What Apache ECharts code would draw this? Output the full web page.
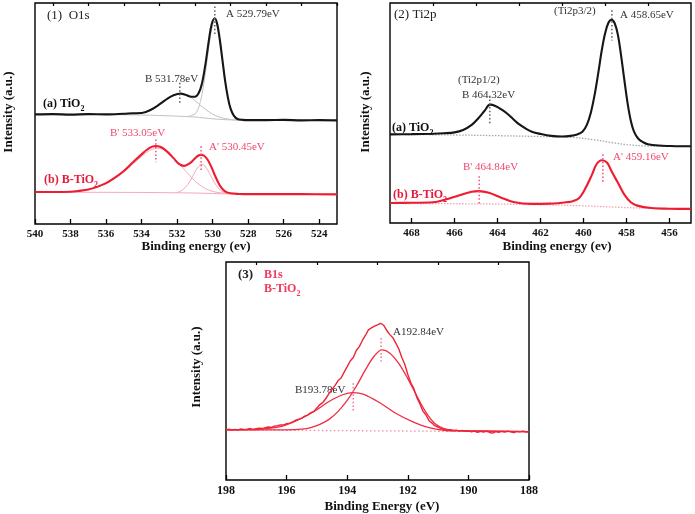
<!DOCTYPE html>
<html><head><meta charset="utf-8">
<script src="https://cdn.jsdelivr.net/npm/echarts@6/dist/echarts.min.js"></script>
<style>html,body{margin:0;padding:0;background:#fff}#c{width:695px;height:514px}</style>
</head><body><div id="c"></div>
<script>
// ---------- Panel 1 : O1s ----------
const o1sTicks = [540, 538, 536, 534, 532, 530, 528, 526, 524];
const o1sMinor = [539, 537, 535, 533, 531, 529, 527, 525, 523];
const o1sTiO2 = [[540,49.6],[539,49.7],[538,49.5],[537,49.7],[536,49.6],[535,49.9],[534.5,50.1],[534,50.2],[533.5,51.6],[533,54.1],[532.5,57.0],[532.2,58.3],[531.8,59.0],[531.5,58.4],[531.2,57.6],[531,57.6],[530.8,59.0],[530.6,63.6],[530.4,72.6],[530.2,83.8],[530.05,90.5],[529.88,93.1],[529.75,90.7],[529.6,83.6],[529.45,74.3],[529.3,64.9],[529.15,57.6],[529,52.4],[528.8,48.9],[528.6,47.5],[528.3,47.1],[528,47.0],[527,47.0],[526,47.1],[525,46.9],[524,47.0],[523,46.9]];
const o1sTiO2Base = [[540,49.6],[536,49.5],[534,49.3],[533,49.1],[532,48.8],[531.5,48.6],[531,48.4],[530.5,48.0],[530,47.6],[529.5,47.3],[529,47.1],[528,47.0],[523,46.9]];
const o1sTiO2PeakA = [[531.4,48.7],[531,49.8],[530.8,52.4],[530.6,58.6],[530.4,68.7],[530.2,80.9],[530.05,88.3],[529.88,91.5],[529.75,89.4],[529.6,82.7],[529.45,73.7],[529.3,64.5],[529.15,57.3],[529,52.2],[528.8,48.8],[528.6,47.5],[528.3,47.0]];
const o1sTiO2PeakB = [[535,49.5],[534.5,49.7],[534,50.2],[533.5,51.6],[533,54.1],[532.5,57.0],[532.2,58.3],[531.8,59.0],[531.4,58.1],[531,55.9],[530.6,53.1],[530.2,50.7],[529.8,48.9],[529.4,47.9],[529,47.3],[528.5,47.0]];
const o1sBTiO2 = [[540,14.5],[539,14.5],[538,14.6],[537.5,15.0],[537,15.6],[536.5,16.8],[536,18.5],[535.5,21.0],[535,24.0],[534.5,27.8],[534,31.5],[533.7,33.6],[533.4,35.0],[533.2,35.3],[533,35.1],[532.8,34.3],[532.5,32.3],[532.2,29.8],[531.9,27.2],[531.6,26.3],[531.3,27.4],[531,29.6],[530.8,31.0],[530.65,31.3],[530.5,31.0],[530.3,29.3],[530.1,26.3],[529.9,22.5],[529.7,19.0],[529.5,16.3],[529.3,14.8],[529,13.9],[528.5,13.6],[528,13.5],[525,13.5],[523,13.4]];
const o1sBTiO2Base = [[540,14.4],[535,14.3],[533,14.2],[531,14.0],[530,13.8],[529,13.6],[523,13.5]];
const o1sBTiO2PeakB = [[538,14.6],[537.5,15.0],[537,15.6],[536.5,16.7],[536,18.3],[535.5,20.6],[535,23.5],[534.5,27.0],[534,30.5],[533.7,32.5],[533.4,33.8],[533.15,34.3],[532.8,33.8],[532.5,32.2],[532.2,30.0],[531.9,27.5],[531.6,24.8],[531.3,22.0],[531,19.5],[530.7,17.5],[530.4,16.0],[530.1,15.0],[529.8,14.4],[529.4,14.0],[529,13.8],[528,13.6]];
const o1sBTiO2PeakA = [[532,14.2],[531.7,15.4],[531.4,17.8],[531.1,22.0],[530.9,24.9],[530.7,26.8],[530.6,27.0],[530.4,25.9],[530.2,23.3],[530,20.2],[529.8,17.5],[529.6,15.6],[529.4,14.5],[529.1,13.9],[528.7,13.7],[528,13.6]];
const o1sMarkA = [[529.88,98.4],[529.88,85.9]];
const o1sMarkB = [[531.85,63.9],[531.85,54.3]];
const o1sMarkB2 = [[533.2,38.2],[533.2,27.9]];
const o1sMarkA2 = [[530.65,35.2],[530.65,24.2]];

// ---------- Panel 2 : Ti2p ----------
const ti2pTicks = [468, 466, 464, 462, 460, 458, 456];
const ti2pMinor = [467, 465, 463, 461, 459, 457];
const ti2pTiO2 = [[469,40.3],[468,40.4],[467,40.6],[466.5,40.8],[466,41.2],[465.6,42.3],[465.2,44.6],[464.9,47.5],[464.6,51.0],[464.35,53.8],[464.1,53.2],[463.8,51.5],[463.5,49.3],[463.2,46.6],[463,44.9],[462.7,43.0],[462.4,41.5],[462,40.5],[461.5,39.6],[461,39.3],[460.6,39.6],[460.3,40.2],[460.05,41.5],[459.85,44.5],[459.65,50.5],[459.45,60.0],[459.3,69.0],[459.15,78.5],[459,86.0],[458.85,90.8],[458.7,92.4],[458.55,90.8],[458.4,85.5],[458.25,76.0],[458.1,65.0],[457.95,54.5],[457.8,46.5],[457.65,41.5],[457.45,38.3],[457.2,36.6],[457,35.8],[456.5,35.2],[456,35.0],[455.5,34.9],[455,34.9]];
const ti2pTiO2Base = [[469,40.3],[466,40.0],[464,39.7],[462,39.3],[460.5,38.9],[459.5,37.8],[458.7,36.6],[458,35.6],[457,35.0],[455,34.9]];
const ti2pBTiO2 = [[469,9.1],[468,9.2],[467,9.4],[466.4,10.7],[465.8,12.5],[465.2,14.2],[464.85,14.5],[464.4,13.7],[463.8,11.4],[463.2,9.4],[462.4,8.7],[461.6,8.8],[461.2,9.0],[460.8,9.4],[460.5,9.9],[460.2,11.4],[459.9,16.0],[459.6,22.1],[459.4,26.6],[459.15,28.5],[458.9,27.4],[458.7,23.6],[458.4,18.3],[458.1,12.9],[457.8,9.4],[457.5,7.9],[456.85,6.8],[456,6.5],[455,6.4]];
const ti2pBTiO2Base = [[469,8.9],[465,8.7],[462,8.3],[460,7.8],[458.5,7.2],[457,6.7],[455,6.4]];
const ti2pMarkB = [[464.36,57.8],[464.36,44.9]];
const ti2pMarkA = [[458.68,96.7],[458.68,83.0]];
const ti2pMarkB2 = [[464.85,21.3],[464.85,8.4]];
const ti2pMarkA2 = [[459.1,31.2],[459.1,18.3]];

// ---------- Panel 3 : B1s ----------
const b1sTicks = [198, 196, 194, 192, 190, 188];
const b1sMinor = [197, 195, 193, 191, 189];
const b1sE = [198.0,197.9,197.8,197.7,197.6,197.5,197.4,197.3,197.2,197.1,197.0,196.9,196.8,196.7,196.6,196.5,196.4,196.3,196.2,196.1,196.0,195.9,195.8,195.7,195.6,195.5,195.4,195.3,195.2,195.1,195.0,194.9,194.8,194.7,194.6,194.5,194.4,194.3,194.2,194.1,194.0,193.9,193.8,193.7,193.6,193.5,193.4,193.3,193.2,193.1,193.0,192.9,192.8,192.7,192.6,192.5,192.4,192.3,192.2,192.1,192.0,191.9,191.8,191.7,191.6,191.5,191.4,191.3,191.2,191.1,191.0,190.9,190.8,190.7,190.6,190.5,190.4,190.3,190.2,190.1,190.0,189.9,189.8,189.7,189.6,189.5,189.4,189.3,189.2,189.1,189.0,188.9,188.8,188.7,188.6,188.5,188.4,188.3,188.2,188.1,188.0];
const b1sI = [23.0,23.3,22.9,23.2,23.0,23.4,23.1,23.3,23.6,23.2,23.5,23.8,23.6,24.0,24.3,24.1,24.7,24.9,25.3,25.2,25.8,26.1,26.6,27.5,27.9,28.4,29.3,29.8,30.9,31.4,33.0,34.6,35.6,37.5,39.6,41.5,43.4,45.6,46.8,49.5,52.0,54.6,56.2,59.4,61.2,64.0,66.3,68.9,69.8,70.6,71.2,71.9,71.0,68.7,66.8,65.4,62.9,60.2,56.3,53.1,48.4,44.6,41.9,37.8,34.9,31.6,29.8,27.2,26.1,24.8,24.3,23.6,23.2,22.8,23.1,22.6,22.9,22.4,22.7,22.3,22.5,22.1,22.4,21.9,22.3,22.0,22.4,21.8,21.5,22.2,21.9,22.3,22.0,22.4,22.1,21.8,22.3,22.1,22.4,22.0,22.2];
const b1sPeakA = [[198,23.0],[196,23.0],[195.5,23.3],[195.2,24.0],[194.9,25.5],[194.6,27.8],[194.3,31.5],[194,36.5],[193.7,43.0],[193.4,50.5],[193.1,57.0],[192.85,59.7],[192.6,58.3],[192.3,53.5],[192,46.5],[191.7,38.5],[191.4,31.0],[191.1,25.8],[190.8,23.6],[190.5,22.8],[190,22.6],[188,22.2]];
const b1sPeakB = [[198,23.0],[197.2,23.1],[196.8,23.4],[196.2,24.5],[195.65,27.3],[195.1,31.4],[194.6,36.0],[194.15,39.1],[193.8,40.1],[193.45,39.3],[192.9,35.2],[192.4,30.6],[191.85,26.8],[191.3,24.0],[190.75,22.7],[190.2,22.5],[188,22.2]];
const b1sBase = [[198,23.0],[188,22.1]];
const b1sMarkA = [[192.88,65.1],[192.88,54.4]];
const b1sMarkB = [[193.8,44.4],[193.8,31.4]];

// ---------- build ----------
const SERIF = '"Liberation Serif", "DejaVu Serif", serif';
const chart = echarts.init(document.getElementById('c'), null, {renderer: 'canvas'});

function majorX(gi, min, max, ticks, fs) {
  return {type: 'value', gridIndex: gi, min: min, max: max, inverse: true,
    axisLine: {show: false}, splitLine: {show: false},
    axisTick: {show: true, inside: true, length: 5, customValues: ticks, lineStyle: {color: '#000', width: 1.3}},
    axisLabel: {show: true, customValues: ticks, margin: 5, showMinLabel: true, showMaxLabel: true,
      fontFamily: SERIF, fontWeight: 'bold', fontSize: fs, color: '#111'}};
}
function minorX(gi, min, max, ticks) {
  return {type: 'value', gridIndex: gi, min: min, max: max, inverse: true,
    axisLine: {show: false}, splitLine: {show: false}, axisLabel: {show: false},
    axisTick: {show: true, inside: true, length: 3, customValues: ticks, lineStyle: {color: '#000', width: 1.2}}};
}
function yAx(gi) {
  return {type: 'value', gridIndex: gi, min: 0, max: 100, show: false};
}
function line(data, xi, yi, color, width, type, z) {
  return {type: 'line', xAxisIndex: xi, yAxisIndex: yi, data: data, symbol: 'none', showSymbol: false,
    smooth: 0.35, silent: true, animation: false, z: z || 2,
    lineStyle: {color: color, width: width, type: type || 'solid'}};
}
function mark(data, xi, yi, color) {
  return {type: 'line', xAxisIndex: xi, yAxisIndex: yi, data: data, symbol: 'none', silent: true, animation: false, z: 5,
    lineStyle: {color: color, width: 1.6, type: [1.5, 2.2]}};
}
const b1sEnv = b1sE.map((e, i) => [e, b1sI[i]]);

const BLACK = '#161616', GREY = '#c2c2c2', RED = '#ee1c30', PINK = '#f6a9ba';
const MARKD = '#666', MARKR = '#f2587c', LBLR = '#f0466e', TXT = '#333';

const series = [
  // panel 1
  line(o1sTiO2Base, 0, 0, GREY, 1, 'solid', 1),
  line(o1sTiO2PeakB, 0, 0, GREY, 1, 'solid', 1),
  line(o1sTiO2PeakA, 0, 0, GREY, 1, 'solid', 1),
  line(o1sTiO2, 0, 0, BLACK, 2.1, 'solid', 3),
  line(o1sBTiO2Base, 0, 0, PINK, 1, 'solid', 1),
  line(o1sBTiO2PeakB, 0, 0, PINK, 1, 'solid', 1),
  line(o1sBTiO2PeakA, 0, 0, PINK, 1, 'solid', 1),
  line(o1sBTiO2, 0, 0, RED, 2.1, 'solid', 3),
  mark(o1sMarkA, 0, 0, MARKD), mark(o1sMarkB, 0, 0, MARKD),
  mark(o1sMarkB2, 0, 0, MARKR), mark(o1sMarkA2, 0, 0, MARKR),
  // panel 2
  line(ti2pTiO2Base, 2, 1, '#a8a8a8', 1.3, [1.5, 1.5], 1),
  line(ti2pTiO2, 2, 1, BLACK, 2.1, 'solid', 3),
  line(ti2pBTiO2Base, 2, 1, '#f4a2b6', 1.3, [1.5, 1.5], 1),
  line(ti2pBTiO2, 2, 1, RED, 2.1, 'solid', 3),
  mark(ti2pMarkA, 2, 1, MARKD), mark(ti2pMarkB, 2, 1, MARKD),
  mark(ti2pMarkB2, 2, 1, MARKR), mark(ti2pMarkA2, 2, 1, MARKR),
  // panel 3
  line(b1sBase, 4, 2, '#f48ca2', 1.3, [1.5, 2.5], 1),
  line(b1sPeakB, 4, 2, '#ee2c44', 1.3, 'solid', 2),
  line(b1sPeakA, 4, 2, '#ee2c44', 1.3, 'solid', 2),
  Object.assign(line(b1sEnv, 4, 2, '#ee2436', 1.4, 'solid', 3), {smooth: false}),
  mark(b1sMarkA, 4, 2, '#f27a92'), mark(b1sMarkB, 4, 2, '#f27a92')
];

function txt(x, y, text, size, color, bold) {
  return {type: 'text', x: x, y: y, silent: true,
    style: {text: text, fill: color, font: (bold ? 'bold ' : '') + size + 'px ' + SERIF,
      textAlign: 'left', textVerticalAlign: 'middle'}};
}
function subTxt(x, y, pre, size, color) {
  return {type: 'text', x: x, y: y, silent: true,
    style: {text: pre + '{s|2}', fill: color, font: 'bold ' + size + 'px ' + SERIF,
      textAlign: 'left', textVerticalAlign: 'middle',
      rich: {s: {fontSize: 8, fontWeight: 'bold', fontFamily: SERIF, fill: color, verticalAlign: 'bottom', lineHeight: 17}}}};
}
function rotTxt(x, y, text) {
  return {type: 'text', x: x, y: y, rotation: Math.PI / 2, silent: true,
    style: {text: text, fill: '#111', font: 'bold 13px ' + SERIF, textAlign: 'center', textVerticalAlign: 'middle'}};
}
function ctrTxt(x, y, text, size) {
  return {type: 'text', x: x, y: y, silent: true,
    style: {text: text, fill: '#111', font: 'bold ' + size + 'px ' + SERIF, textAlign: 'center', textVerticalAlign: 'middle'}};
}

const graphics = [
  // panel 1
  txt(47, 16, '(1)  O1s', 13, '#222', false),
  txt(226, 14, 'A 529.79eV', 11, TXT, false),
  txt(145, 79, 'B 531.78eV', 11, TXT, false),
  subTxt(43, 104, '(a) TiO', 12, '#111'),
  txt(110, 133, "B' 533.05eV", 11, LBLR, false),
  txt(209, 147, "A' 530.45eV", 11, LBLR, false),
  subTxt(44, 180, '(b) B-TiO', 12, '#e8183a'),
  ctrTxt(196, 247, 'Binding energy (ev)', 13),
  rotTxt(9, 112, 'Intensity (a.u.)'),
  // panel 2
  txt(394, 15, '(2) Ti2p', 13, '#222', false),
  txt(554, 11, '(Ti2p3/2)', 11, TXT, false),
  txt(620, 15, 'A 458.65eV', 11, TXT, false),
  txt(458, 80, '(Ti2p1/2)', 11, TXT, false),
  txt(462, 95, 'B 464.32eV', 11, TXT, false),
  subTxt(392, 128, '(a) TiO', 12, '#111'),
  txt(463, 167, "B' 464.84eV", 11, LBLR, false),
  txt(613, 157, "A' 459.16eV", 11, LBLR, false),
  subTxt(393, 195, '(b) B-TiO', 12, '#e8183a'),
  ctrTxt(557, 247, 'Binding energy (ev)', 13),
  rotTxt(366, 112, 'Intensity (a.u.)'),
  // panel 3
  txt(238, 275, '(3)', 13, '#222', true),
  txt(264, 275, 'B1s', 12, '#ef3b5e', true),
  subTxt(264, 289, 'B-TiO', 12, '#ef3b5e'),
  txt(393, 332, 'A192.84eV', 11, TXT, false),
  txt(295, 390, 'B193.78eV', 11, TXT, false),
  ctrTxt(382, 507, 'Binding Energy (eV)', 13),
  rotTxt(197, 367, 'Intensity (a.u.)')
];

chart.setOption({
  animation: false,
  backgroundColor: '#fff',
  grid: [
    {left: 35, top: 3, width: 302, height: 221, show: true, borderColor: '#000', borderWidth: 1.4, backgroundColor: 'transparent'},
    {left: 390, top: 3, width: 301, height: 220, show: true, borderColor: '#000', borderWidth: 1.4, backgroundColor: 'transparent'},
    {left: 226, top: 262, width: 303, height: 218, show: true, borderColor: '#000', borderWidth: 1.4, backgroundColor: 'transparent'}
  ],
  xAxis: [
    majorX(0, 523, 540, o1sTicks, 11), minorX(0, 523, 540, o1sMinor),
    majorX(1, 455, 469, ti2pTicks, 11), minorX(1, 455, 469, ti2pMinor),
    majorX(2, 188, 198, b1sTicks, 12), minorX(2, 188, 198, b1sMinor)
  ],
  yAxis: [yAx(0), yAx(1), yAx(2)],
  series: series,
  graphic: graphics
});
</script>
</body></html>
